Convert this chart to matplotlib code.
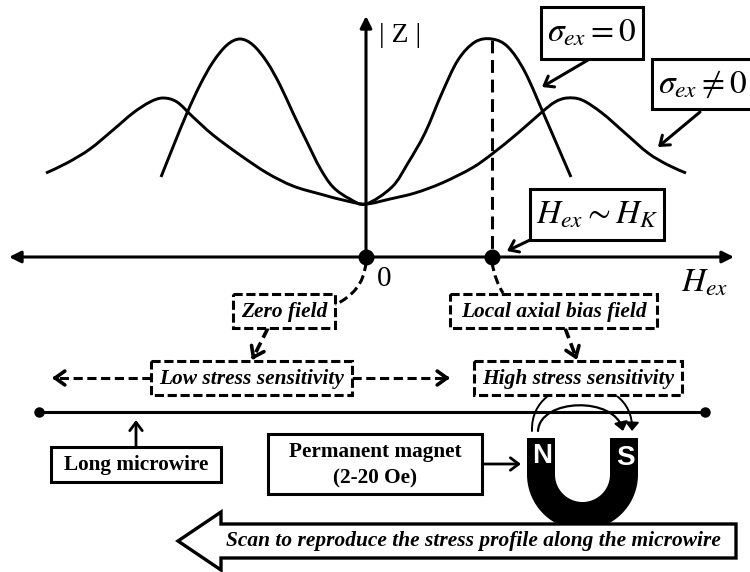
import numpy as np
import matplotlib
matplotlib.use("Agg")
import matplotlib.pyplot as plt
from matplotlib.patches import Polygon, Rectangle, PathPatch, FancyArrowPatch
from matplotlib.path import Path

plt.rcParams['font.family'] = ['Liberation Serif', 'DejaVu Serif']
plt.rcParams['mathtext.fontset'] = 'stix'

# curves (image pixels)
narrow_x = [161, 173, 187, 200, 213, 227, 240, 253, 267, 280, 293, 307, 320, 333, 350, 366, 392, 408, 425, 442, 458, 475, 492, 508, 525, 545, 558, 571]
narrow_y = [177, 147, 113, 85, 62, 45, 39, 45, 62, 85, 113, 142, 168, 187, 199, 204, 187, 163, 133, 93, 60, 42, 39, 47, 72, 117, 147, 177]
wide_x = [46, 67, 90, 113, 133, 150, 163, 177, 193, 213, 240, 267, 293, 320, 347, 366, 390, 415, 442, 472, 492, 518, 542, 555, 567, 582, 602, 625, 648, 668, 686]
wide_y = [173, 163, 149, 130, 113, 102, 98, 102, 117, 135, 155, 173, 186, 194, 201, 204, 199, 193, 183, 168, 154, 133, 112, 102, 98, 100, 113, 133, 153, 165, 173]

solid_labels = ['Long microwire', 'Permanent magnet', '(2-20 Oe)']
dashed_labels = ['Zero field', 'Local axial bias field', 'Low stress sensitivity', 'High stress sensitivity']
scan_label = 'Scan to reproduce the stress profile along the microwire'


def smooth_path(xs, ys):
    # catmull-rom through the read points, as bezier segments
    p = np.column_stack([xs, ys]).astype(float)
    verts = [p[0]]
    codes = [Path.MOVETO]
    for i in range(len(p) - 1):
        p0 = p[max(i - 1, 0)]
        p3 = p[min(i + 2, len(p) - 1)]
        verts += [p[i] + (p[i + 1] - p0) / 6, p[i + 1] - (p3 - p[i]) / 6, p[i + 1]]
        codes += [Path.CURVE4] * 3
    return Path(verts, codes)


def box(x0, y0, x1, y1, ls='-', lw=2.2, z=5):
    ax.add_patch(Rectangle((x0, y0), x1 - x0, y1 - y0, fc='white', ec='black', lw=lw,
                           ls=(0, (3, 1.2)) if ls == '--' else '-', zorder=z))


def arrow(a, b, lw=2.0, style='->,head_length=6,head_width=4.5', conn='arc3', z=4, path=None):
    if path is not None:
        p = FancyArrowPatch(path=path, arrowstyle=style, color='black', lw=lw, mutation_scale=1, zorder=z)
    else:
        p = FancyArrowPatch(a, b, arrowstyle=style, color='black', lw=lw, shrinkA=0, shrinkB=0,
                            mutation_scale=1, connectionstyle=conn, zorder=z)
    ax.add_patch(p)


def dashed_arrow(a, b, lw=2.2):
    a = np.array(a, float)
    b = np.array(b, float)
    u = (b - a) / np.hypot(*(b - a))
    ax.plot([a[0], b[0] - u[0] * 3], [a[1], b[1] - u[1] * 3], color='black', lw=lw, ls=(0, (3, 1.5)), zorder=4)
    arrow(b - u * 5, b, lw=2.6, style='->,head_length=7,head_width=5')


fig = plt.figure(figsize=(7.5, 5.72), dpi=100)
ax = fig.add_axes([0, 0, 1, 1])
ax.set_xlim(0, 750)
ax.set_ylim(572, 0)
ax.axis('off')

# Z curves
ax.add_patch(PathPatch(smooth_path(narrow_x, narrow_y), fc='none', ec='black', lw=2.1, capstyle='butt'))
ax.add_patch(PathPatch(smooth_path(wide_x, wide_y), fc='none', ec='black', lw=2.1, capstyle='butt'))

# axes
filled = '-|>,head_length=7,head_width=3.5'
arrow((366, 257), (366, 16), lw=2.2, style=filled)
arrow((366, 257), (9, 257), lw=2.2, style=filled)
arrow((366, 257), (734, 257), lw=2.2, style=filled)
ax.plot([492, 492], [40, 257], color='black', lw=2.2, ls=(0, (4.2, 2.2)))
ax.plot([366, 492], [257, 257], 'o', color='black', ms=10.5, zorder=6)
ax.text(400, 36, '| Z |', fontsize=20, ha='center', va='center')
ax.text(384, 279, '0', fontsize=21, ha='center', va='center')
ax.text(705, 283, r'$H_{ex}$', fontsize=24, ha='center', va='center')

# value boxes
box(541, 7, 643, 59)
ax.text(592, 33, r'$\sigma_{ex}=0$', fontsize=24, ha='center', va='center', zorder=7)
box(652, 59, 756, 109)
ax.text(703, 84, r'$\sigma_{ex}\neq 0$', fontsize=24, ha='center', va='center', zorder=7)
box(530, 189, 664, 240)
ax.text(597, 215, r'$H_{ex}\sim H_{K}$', fontsize=24, ha='center', va='center', zorder=7)
arrow((588, 60), (542, 87), lw=2.2)
arrow((700, 112), (658, 147), lw=2.2)
arrow((530, 240), (507, 251), lw=2.2)

# dashed links
dash = (0, (3, 1.5))
ax.add_patch(PathPatch(Path([(366, 262), (364, 285), (352, 296), (335, 305)], [Path.MOVETO] + [Path.CURVE4] * 3),
                       fc='none', ec='black', lw=2.2, ls=dash, zorder=4))
ax.add_patch(PathPatch(Path([(492, 262), (494, 275), (498, 285), (503, 293)], [Path.MOVETO] + [Path.CURVE4] * 3),
                       fc='none', ec='black', lw=2.2, ls=dash, zorder=4))
dashed_arrow((268, 328), (252, 360), lw=2.6)
dashed_arrow((565, 328), (577, 360), lw=2.6)
dashed_arrow((151, 378), (52, 378))
dashed_arrow((352, 378), (450, 378))

bi = dict(fontsize=15.4, fontweight='bold', fontstyle='italic', ha='center', va='center', zorder=7)
b = dict(fontsize=15.3, fontweight='bold', ha='center', va='center', zorder=7)
dashed_boxes = [(233, 294, 335, 328), (450, 294, 657, 328), (151, 361, 352, 395), (474, 361, 682, 395)]
for (x0, y0, x1, y1), lab in zip(dashed_boxes, dashed_labels):
    box(x0, y0, x1, y1, ls='--')
    ax.text((x0 + x1) / 2, (y0 + y1) / 2 + 1, lab, **bi)

# wire
ax.plot([39, 705], [412, 412], color='black', lw=2.2, zorder=2)
ax.plot([39, 705], [412, 412], 'o', color='black', ms=6.5, zorder=2)
arrow((136, 447), (136, 420))
box(51, 447, 221, 482)
ax.text(136, 465, solid_labels[0], **b)
box(268, 434, 482, 494)
ax.text(375, 452, solid_labels[1], **b)
ax.text(375, 478, solid_labels[2], **b)
arrow((482, 464), (521, 464))

# magnet
t = np.linspace(0, np.pi, 60)
outer = np.column_stack([582.5 + 55.5 * np.cos(t), 474.5 + 55.5 * np.sin(t)])
inner = np.column_stack([582.5 + 27.5 * np.cos(t[::-1]), 474.5 + 27.5 * np.sin(t[::-1])])
ax.add_patch(Polygon(np.vstack([[[638, 438]], outer, [[527, 438], [555, 438]], inner, [[610, 438]]]),
                     fc='black', ec='none', zorder=3))
ax.text(542, 456, 'N', color='white', fontsize=20, fontweight='bold', family='Liberation Sans',
        ha='center', va='center', zorder=4)
ax.text(625, 458, 'S', color='white', fontsize=20, fontweight='bold', family='Liberation Sans',
        ha='center', va='center', zorder=4)
head = '-|>,head_length=5,head_width=4'
curve = [Path.MOVETO] + [Path.CURVE4] * 3
arrow(None, None, lw=1.4, style=head, z=3, path=Path([(532, 431), (530, 370), (634, 370), (632, 431)], curve))
arrow(None, None, lw=1.6, style=head, z=3, path=Path([(538, 431), (540, 398), (615, 396), (623, 431)], curve))

# scan arrow
ax.add_patch(Polygon([(178, 541), (221, 512), (221, 524), (736, 524), (736, 558), (221, 558), (221, 570)],
                     fc='white', ec='black', lw=2.4, joinstyle='miter', zorder=5))
ax.text(473, 541, scan_label, **bi)

fig.savefig('out.png', dpi=100)
